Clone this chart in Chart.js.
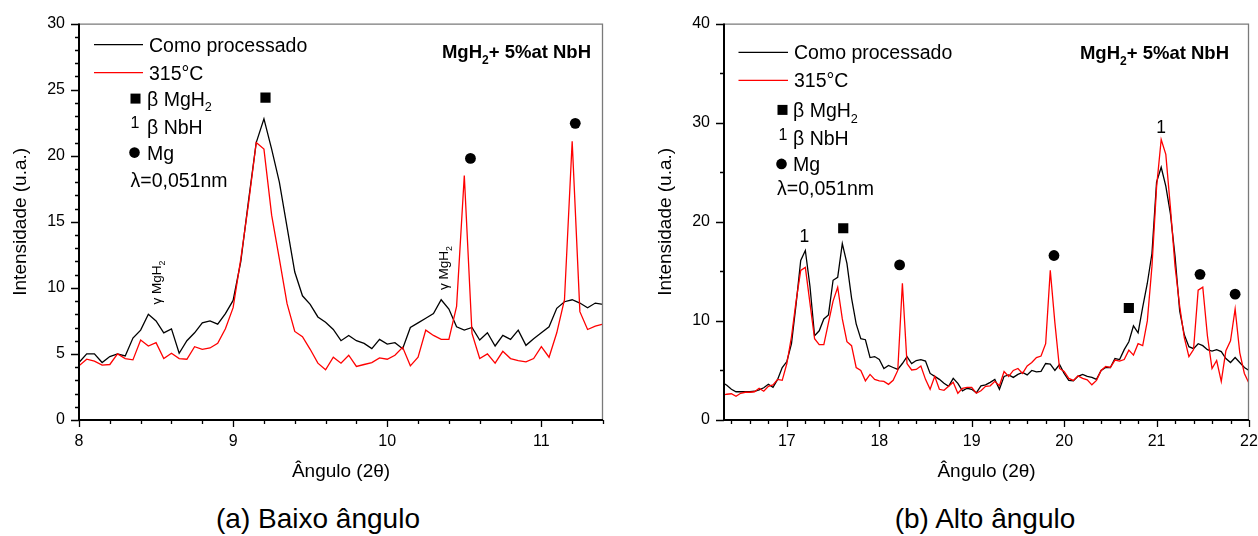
<!DOCTYPE html>
<html>
<head>
<meta charset="utf-8">
<script src="https://cdn.jsdelivr.net/npm/chart.js@4/dist/chart.umd.min.js"></script>
<style>
html,body{margin:0;padding:0;background:#fff;width:1258px;height:536px;overflow:hidden;}
.panel{position:absolute;top:0;height:490px;}
#pa{left:0;width:620px;}
#pb{left:645px;width:613px;}
.cap{position:absolute;top:503px;line-height:32px;font-family:Arial,"Liberation Sans",sans-serif;font-size:28px;color:#000;white-space:nowrap;transform:translateX(-50%);}
</style>
</head>
<body>
<div class="panel" id="pa"><canvas id="ca"></canvas></div>
<div class="panel" id="pb"><canvas id="cb"></canvas></div>
<div class="cap" style="left:318px">(a) Baixo ângulo</div>
<div class="cap" style="left:985px">(b) Alto ângulo</div>
<script>
// ---------------- data ----------------
const seriesLabels = ['Como processado', '315°C'];

const angleA = [8.00,8.05,8.10,8.15,8.20,8.25,8.30,8.35,8.40,8.45,
  8.50,8.55,8.60,8.65,8.70,8.75,8.80,8.85,8.90,8.95,
  9.00,9.05,9.10,9.15,9.20,9.25,9.30,9.35,9.40,9.45,
  9.50,9.55,9.60,9.65,9.70,9.75,9.80,9.85,9.90,9.95,
  10.00,10.05,10.10,10.15,10.20,10.25,10.30,10.35,10.40,10.45,
  10.50,10.55,10.60,10.65,10.70,10.75,10.80,10.85,10.90,10.95,
  11.00,11.05,11.10,11.15,11.20,11.25,11.30,11.35,11.40];
const asProcessedA = [4.35,5.0,5.0,4.35,4.8,5.0,4.85,6.2,6.8,8.0,
  7.5,6.6,6.9,5.05,6.0,6.6,7.35,7.5,7.25,8.05,
  9.05,12.0,16.6,21.0,22.8,20.5,18.0,14.6,11.2,9.4,
  8.75,7.8,7.4,6.85,6.0,6.4,6.0,5.8,5.4,6.1,
  5.75,5.85,5.4,7.0,7.35,7.7,8.05,9.1,8.4,7.05,
  6.8,7.0,6.05,6.6,5.6,6.4,6.1,6.8,5.65,6.15,
  6.6,7.05,8.45,8.95,9.1,8.85,8.5,8.85,8.75];
const annealedA = [4.1,4.6,4.45,4.15,4.2,5.0,4.65,4.55,6.05,5.6,
  5.85,4.65,5.05,4.65,4.6,5.55,5.35,5.45,5.8,6.9,
  8.5,12.2,16.4,21.0,20.5,15.5,12.2,8.8,6.7,6.3,
  5.35,4.3,3.8,4.75,4.3,4.9,4.05,4.2,4.35,4.7,
  4.6,4.9,5.5,4.1,4.75,6.8,6.4,6.1,6.1,8.6,
  18.5,6.55,4.65,5.0,4.3,5.2,4.65,4.5,4.4,4.65,
  5.55,4.75,6.6,9.1,21.1,8.2,6.85,7.1,7.25];

const angleB = [16.30,16.35,16.40,16.45,16.50,16.55,16.60,16.65,16.70,16.75,
  16.80,16.85,16.90,16.95,17.00,17.05,17.10,17.15,17.20,17.25,
  17.30,17.35,17.40,17.45,17.50,17.55,17.60,17.65,17.70,17.75,
  17.80,17.85,17.90,17.95,18.00,18.05,18.10,18.15,18.20,18.25,
  18.30,18.35,18.40,18.45,18.50,18.55,18.60,18.65,18.70,18.75,
  18.80,18.85,18.90,18.95,19.00,19.05,19.10,19.15,19.20,19.25,
  19.30,19.35,19.40,19.45,19.50,19.55,19.60,19.65,19.70,19.75,
  19.80,19.85,19.90,19.95,20.00,20.05,20.10,20.15,20.20,20.25,
  20.30,20.35,20.40,20.45,20.50,20.55,20.60,20.65,20.70,20.75,
  20.80,20.85,20.90,20.95,21.00,21.05,21.10,21.15,21.20,21.25,
  21.30,21.35,21.40,21.45,21.50,21.55,21.60,21.65,21.70,21.75,
  21.80,21.85,21.90,21.95,22.00];
const asProcessedB = [3.8,3.5,3.1,2.85,2.85,2.85,2.85,2.9,3.05,3.25,
  3.6,3.3,4.1,5.3,5.9,7.7,11.7,16.1,17.1,13.5,
  8.5,9.0,10.2,10.6,14.1,14.4,17.8,15.8,12.3,9.7,
  8.2,8.1,6.3,6.4,6.1,5.2,5.5,5.3,5.1,5.7,
  6.4,5.7,6.0,6.1,5.95,4.7,4.4,4.1,3.7,3.4,
  4.2,3.7,2.95,3.2,3.1,2.75,3.45,3.55,3.8,4.1,
  3.1,4.4,4.55,4.3,4.6,4.8,4.55,5.0,4.85,4.9,
  5.7,5.65,5.0,5.6,4.7,4.0,3.95,4.4,4.6,4.4,
  4.3,4.1,5.0,5.3,5.3,6.2,6.1,7.1,7.9,9.5,
  8.8,11.4,13.8,16.8,24.0,25.5,23.6,20.8,16.5,11.0,
  8.6,7.4,7.2,7.7,7.5,7.1,6.95,7.1,6.9,6.2,
  5.8,6.3,5.8,5.3,5.0];
const annealedB = [2.5,2.6,2.65,2.4,2.7,2.8,2.8,2.85,3.2,2.9,
  3.4,3.55,4.1,4.0,5.7,8.4,12.0,15.1,15.4,11.8,
  8.2,7.6,7.6,9.8,12.0,13.4,10.2,7.9,7.5,5.3,
  5.0,3.95,4.6,4.1,3.95,3.9,3.6,4.0,5.0,13.8,
  5.7,5.05,5.1,5.45,4.1,3.1,4.4,3.1,3.0,3.4,
  3.8,2.7,3.2,3.3,3.3,2.7,2.95,3.4,3.45,3.9,
  3.45,4.9,4.4,5.0,5.2,4.7,5.45,5.8,6.3,6.45,
  7.7,15.1,9.8,5.2,4.9,4.2,4.0,4.45,4.2,4.05,
  3.55,4.0,5.0,5.4,5.3,6.05,5.95,6.1,7.05,6.55,
  7.7,7.5,10.0,15.5,23.5,28.3,26.8,21.4,15.5,11.5,
  8.3,6.4,7.1,13.1,13.4,8.5,5.2,6.0,3.9,7.0,
  8.0,11.2,6.8,4.7,3.7];

// axis tick values
const xTicksA = [8, 9, 10, 11];
const yTicksA = [0, 5, 10, 15, 20, 25, 30];
const xTicksB = [17, 18, 19, 20, 21, 22];
const yTicksB = [0, 10, 20, 30, 40];

// phase markers (angle, intensity)
const squaresA = [{x: 9.21, y: 24.4}];
const circlesA = [{x: 10.54, y: 19.8}, {x: 11.22, y: 22.45}];
const gammaA = [{x: 8.50, y: 10.4}, {x: 10.36, y: 11.5}];
const squaresB = [{x: 17.61, y: 19.35}, {x: 20.70, y: 11.3}];
const circlesB = [{x: 18.22, y: 15.65}, {x: 19.89, y: 16.6}, {x: 21.47, y: 14.7}, {x: 21.85, y: 12.7}];
const nbhB = [{x: 17.19, y: 18.6}, {x: 21.05, y: 29.6}];

// ---------------- drawing helpers ----------------
const FONT = 'Arial, "Liberation Sans", Helvetica, sans-serif';
Chart.defaults.font.family = FONT;
Chart.defaults.color = '#000';

function parseRich(s) {
  const parts = []; let buf = '';
  for (let i = 0; i < s.length; i++) {
    const c = s[i];
    if ((c === '_' || c === '^') && i + 1 < s.length) {
      if (buf) { parts.push({t: buf}); buf = ''; }
      parts.push({t: s[i + 1], sub: c === '_', sup: c === '^'});
      i++;
    } else buf += c;
  }
  if (buf) parts.push({t: buf});
  return parts;
}
function drawRich(ctx, x, yc, str, size, weight, align) {
  const parts = parseRich(str);
  ctx.save();
  let total = 0;
  const items = parts.map(p => {
    const s = (p.sub || p.sup) ? size * 0.65 : size;
    ctx.font = `${weight} ${s}px ${FONT}`;
    const w = ctx.measureText(p.t).width;
    total += w;
    return {p, s, w};
  });
  let cx = align === 'center' ? x - total / 2 : (align === 'right' ? x - total : x);
  const base = yc + size * 0.36;
  ctx.textAlign = 'left'; ctx.textBaseline = 'alphabetic'; ctx.fillStyle = '#000';
  for (const it of items) {
    ctx.font = `${weight} ${it.s}px ${FONT}`;
    const dy = it.p.sub ? size * 0.3 : (it.p.sup ? -size * 0.45 : 0);
    ctx.fillText(it.p.t, cx, base + dy);
    cx += it.w;
  }
  ctx.restore();
}

const decor = {
  id: 'decor',
  afterDatasetsDraw(chart, args, o) {
    const {ctx, chartArea: ca, scales: {x, y}} = chart;
    ctx.save();
    // frame (top / right)
    ctx.strokeStyle = '#7a7a7a'; ctx.lineWidth = 1.3;
    ctx.beginPath();
    ctx.moveTo(ca.left, ca.top + 0.5); ctx.lineTo(ca.right - 0.5, ca.top + 0.5); ctx.lineTo(ca.right - 0.5, ca.bottom);
    ctx.stroke();
    // axes
    ctx.strokeStyle = '#000'; ctx.lineWidth = 2;
    ctx.beginPath();
    ctx.moveTo(ca.left, ca.top); ctx.lineTo(ca.left, ca.bottom); ctx.lineTo(ca.right, ca.bottom);
    ctx.stroke();
    // tick marks
    ctx.lineWidth = 1.3;
    ctx.beginPath();
    for (let k = Math.ceil(x.min / o.xMinor - 1e-6); k * o.xMinor <= x.max + 1e-6; k++) {
      const v = k * o.xMinor;
      const major = Math.abs(v / o.xMajor - Math.round(v / o.xMajor)) < 1e-6;
      const px = Math.round(x.getPixelForValue(v)) + 0.5;
      ctx.moveTo(px, ca.bottom); ctx.lineTo(px, ca.bottom + (major ? 7 : 4));
    }
    for (let k = Math.ceil(y.min / o.yMinor - 1e-6); k * o.yMinor <= y.max + 1e-6; k++) {
      const v = k * o.yMinor;
      const major = Math.abs(v / o.yMajor - Math.round(v / o.yMajor)) < 1e-6;
      const py = Math.round(y.getPixelForValue(v)) + 0.5;
      ctx.moveTo(ca.left, py); ctx.lineTo(ca.left - (major ? 8 : 4), py);
    }
    ctx.stroke();
    ctx.restore();
  },
  afterDraw(chart, args, o) {
    const {ctx, chartArea: ca, scales: {x, y}} = chart;
    const ds = chart.data.datasets;
    const L = o.legend;
    ctx.save();
    // series legend
    [0, 1].forEach(i => {
      const yy = ca.top + L.rowY[i];
      ctx.strokeStyle = ds[i].borderColor; ctx.lineWidth = 1.3;
      ctx.beginPath(); ctx.moveTo(ca.left + L.lineX0, yy); ctx.lineTo(ca.left + L.lineX1, yy); ctx.stroke();
      drawRich(ctx, ca.left + L.textX, yy, ds[i].label, 19.5, 'normal', 'left');
    });
    // phase keys
    ctx.fillStyle = '#000';
    const sq = L.square;
    ctx.fillRect(ca.left + sq[0] - 5, ca.top + sq[1] - 5, 10, 10);
    drawRich(ctx, ca.left + L.keyTextX, ca.top + sq[1], 'β MgH_2', 19.5, 'normal', 'left');
    const one = L.one;
    drawRich(ctx, ca.left + one[0], ca.top + one[1], '1', 16, 'normal', 'center');
    drawRich(ctx, ca.left + L.keyTextX, ca.top + one[2], 'β NbH', 19.5, 'normal', 'left');
    const ci = L.circle;
    ctx.beginPath(); ctx.arc(ca.left + ci[0], ca.top + ci[1], 5.3, 0, Math.PI * 2); ctx.fill();
    drawRich(ctx, ca.left + L.keyTextX, ca.top + ci[1], 'Mg', 19.5, 'normal', 'left');
    drawRich(ctx, ca.left + L.lambda[0], ca.top + L.lambda[1], 'λ=0,051nm', 19.5, 'normal', 'left');
    // sample title
    drawRich(ctx, ca.right - L.title[0], ca.top + L.title[1], 'MgH_2+ 5%at NbH', 18.5, 'bold', 'right');
    // rotated gamma labels
    (o.gamma || []).forEach(p => {
      ctx.save();
      ctx.translate(x.getPixelForValue(p.x), y.getPixelForValue(p.y));
      ctx.rotate(-Math.PI / 2);
      drawRich(ctx, 0, 0, 'γ MgH_2', 13.5, 'normal', 'center');
      ctx.restore();
    });
    // NbH peak labels
    (o.ones || []).forEach(p => {
      drawRich(ctx, x.getPixelForValue(p.x), y.getPixelForValue(p.y), '1', 17.5, 'normal', 'center');
    });
    ctx.restore();
  }
};

function toXY(xs, ys) { return xs.map((v, i) => ({x: v, y: ys[i]})); }

function makeChart(id, cfg) {
  const datasets = [
    {label: seriesLabels[0], data: toXY(cfg.angle, cfg.black), borderColor: '#000000', borderWidth: 1.3, pointRadius: 0, tension: 0, fill: false, order: 2},
    {label: seriesLabels[1], data: toXY(cfg.angle, cfg.red), borderColor: '#ff0000', borderWidth: 1.3, pointRadius: 0, tension: 0, fill: false, order: 1},
    {type: 'scatter', label: 'beta MgH2', data: cfg.squares, pointStyle: 'rect', pointRadius: 7.2, backgroundColor: '#000', borderWidth: 0, showLine: false},
    {type: 'scatter', label: 'Mg', data: cfg.circles, pointStyle: 'circle', pointRadius: 5.4, backgroundColor: '#000', borderWidth: 0, showLine: false}
  ];
  return new Chart(document.getElementById(id), {
    type: 'line',
    data: {datasets},
    options: {
      responsive: true, maintainAspectRatio: false, animation: false, devicePixelRatio: 1,
      layout: {padding: {left: 0, right: cfg.padRight, top: 23, bottom: 0}},
      plugins: {legend: {display: false}, tooltip: {enabled: false}, decor: cfg.decor},
      scales: {
        x: {
          type: 'linear', min: cfg.xMin, max: cfg.xMax,
          grid: {display: false, drawTicks: false},
          border: {display: false},
          ticks: {stepSize: 1, includeBounds: false, padding: 12, font: {size: 16}, color: '#000', maxRotation: 0,
                  callback: v => cfg.xTicks.includes(Math.round(v * 1000) / 1000) ? String(v) : ''},
          title: {display: true, text: 'Ângulo (2θ)', font: {size: 19}, color: '#000', padding: {top: 0, bottom: 6.6}},
          afterFit: s => { s.height = 70; s.paddingLeft = 0; s.paddingRight = 0; }
        },
        y: {
          type: 'linear', min: 0, max: cfg.yMax,
          grid: {display: false, drawTicks: false},
          border: {display: false},
          ticks: {stepSize: cfg.yStep, padding: 14, font: {size: 16}, color: '#000',
                  callback: v => cfg.yTicks.includes(v) ? String(v) : ''},
          title: {display: true, text: 'Intensidade (u.a.)', font: {size: 19}, color: '#000', padding: {top: 9, bottom: 0}},
          afterFit: s => { s.width = 79; }
        }
      }
    },
    plugins: [decor]
  });
}

makeChart('ca', {
  angle: angleA, black: asProcessedA, red: annealedA, squares: squaresA, circles: circlesA,
  xMin: 8, xMax: 11.4, yMax: 30, yStep: 5, xTicks: xTicksA, yTicks: yTicksA, padRight: 17,
  decor: {
    xMinor: 0.2, xMajor: 1, yMinor: 1, yMajor: 5,
    gamma: gammaA, ones: [],
    legend: {rowY: [21, 49], lineX0: 15, lineX1: 64, textX: 70,
             square: [56.5, 75], keyTextX: 68, one: [56, 99, 103], circle: [55.5, 129],
             lambda: [51.5, 156], title: [12, 28]}
  }
});
makeChart('cb', {
  angle: angleB, black: asProcessedB, red: annealedB, squares: squaresB, circles: circlesB,
  xMin: 16.32, xMax: 22, yMax: 40, yStep: 10, xTicks: xTicksB, yTicks: yTicksB, padRight: 9,
  decor: {
    xMinor: 0.2, xMajor: 1, yMinor: 5, yMajor: 10,
    gamma: [], ones: nbhB,
    legend: {rowY: [28.7, 56.7], lineX0: 14.5, lineX1: 64, textX: 70,
             square: [58.5, 86.3], keyTextX: 69, one: [59, 111, 114.7], circle: [57.5, 140.3],
             lambda: [53, 164], title: [20, 28.7]}
  }
});
</script>
</body>
</html>
